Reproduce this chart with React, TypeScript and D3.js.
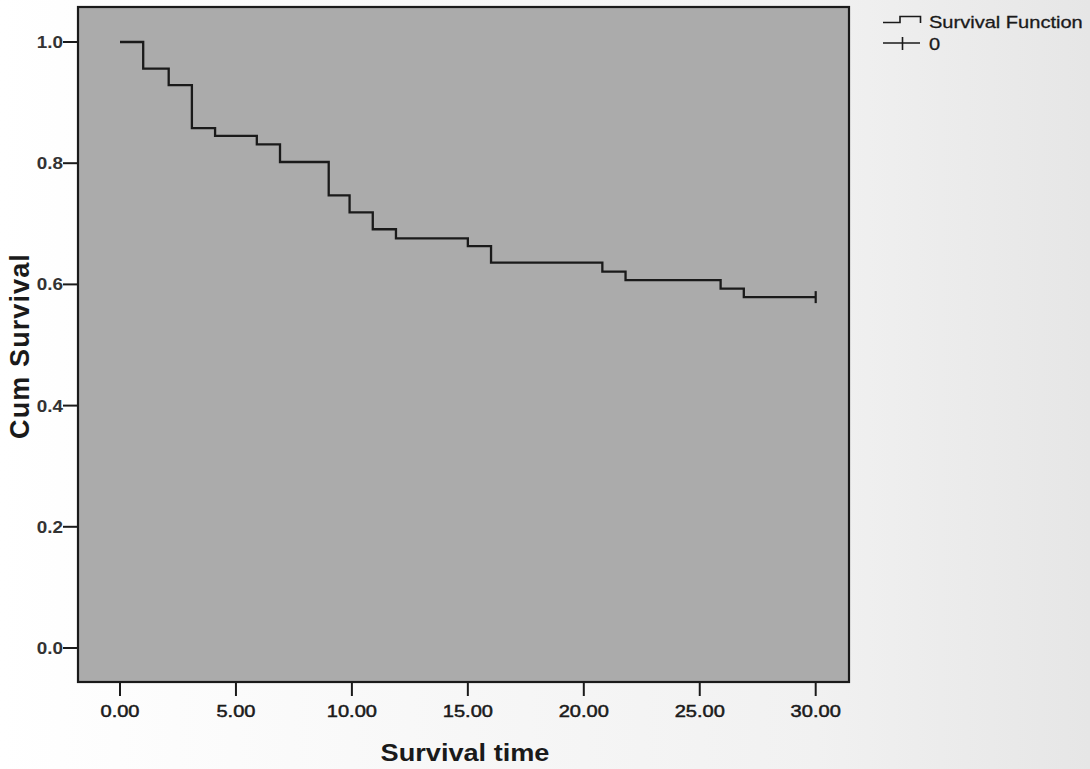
import React from "react";
import * as d3 from "d3";

// Kaplan-Meier estimate
const eventTimes = [0, 1, 2.1, 3.1, 4.1, 5.9, 6.9, 9, 9.9, 10.9, 11.9, 15, 16, 20.8, 21.8, 25.9, 26.9];
const survival = [1, 0.956, 0.929, 0.858, 0.845, 0.831, 0.802, 0.747, 0.719, 0.691, 0.676, 0.663, 0.636, 0.621, 0.607, 0.593, 0.579];
const censorTimes = [30];
const xTicks = [0, 5, 10, 15, 20, 25, 30];
const yTicks = [0, 0.2, 0.4, 0.6, 0.8, 1.0];
const legendLabels = ["Survival Function", "0"];

const W = 1090;
const H = 769;
const frame = { left: 78, top: 7, right: 849, bottom: 682 };
const font = "'Liberation Sans', Arial, Helvetica, sans-serif";
const ink = "#1a1a1a";

const App = () => {
  const x = d3.scaleLinear().domain([0, 30]).range([120, 815.7]);
  const y = d3.scaleLinear().domain([0, 1]).range([648, 42]);

  const lastS = survival[survival.length - 1];
  const pts: [number, number][] = eventTimes.map((t, i) => [t, survival[i]]);
  pts.push([censorTimes[0], lastS]);

  const line = d3
    .line<[number, number]>()
    .x(d => x(d[0]))
    .y(d => y(d[1]))
    .curve(d3.curveStepAfter);

  // text is a bit wider than plain Arial in the scan
  const stretch = 1.18;

  return (
    <svg
      width={W}
      height={H}
      style={{ position: "absolute", left: 0, top: 0 }}
    >
      <defs>
        <linearGradient id="bg" x1="0" x2="1" y1="0" y2="0">
          <stop offset="0" stopColor="#ffffff" />
          <stop offset="0.75" stopColor="#f1f1f1" />
          <stop offset="1" stopColor="#e6e6e6" />
        </linearGradient>
      </defs>
      <rect width={W} height={H} fill="url(#bg)" />

      {/* plot area */}
      <rect
        x={frame.left}
        y={frame.top}
        width={frame.right - frame.left}
        height={frame.bottom - frame.top}
        fill="#ababab"
        stroke={ink}
        strokeWidth={2.2}
      />

      {/* y axis */}
      {yTicks.map(v => (
        <g key={"y" + v}>
          <line x1={frame.left - 15} x2={frame.left} y1={y(v)} y2={y(v)} stroke={ink} strokeWidth={2} />
          <text
            transform={`translate(${frame.left - 15},${y(v) + 6}) scale(${stretch},1)`}
            textAnchor="end"
            fontFamily={font}
            fontWeight="bold"
            fontSize={16}
            fill="#333"
          >
            {v.toFixed(1)}
          </text>
        </g>
      ))}

      {/* x axis */}
      {xTicks.map(v => (
        <g key={"x" + v}>
          <line x1={x(v)} x2={x(v)} y1={frame.bottom} y2={frame.bottom + 14} stroke={ink} strokeWidth={2} />
          <text
            transform={`translate(${x(v)},${frame.bottom + 35}) scale(${stretch},1)`}
            textAnchor="middle"
            fontFamily={font}
            fontSize={17}
            fill={ink}
            stroke={ink}
            strokeWidth={0.5}
          >
            {v.toFixed(2)}
          </text>
        </g>
      ))}

      {/* axis titles */}
      <text
        transform={`translate(${465},${761}) scale(${stretch},1)`}
        textAnchor="middle"
        fontFamily={font}
        fontWeight="bold"
        fontSize={23}
        fill={ink}
      >
        Survival time
      </text>
      <text
        transform={`translate(${29},${346}) rotate(-90)`}
        textAnchor="middle"
        fontFamily={font}
        fontWeight="bold"
        fontSize={27}
        letterSpacing={1.1}
        fill={ink}
      >
        Cum Survival
      </text>

      {/* survival curve */}
      <path d={line(pts) ?? ""} fill="none" stroke={ink} strokeWidth={2.3} />
      {censorTimes.map(t => (
        <line key={"c" + t} x1={x(t)} x2={x(t)} y1={y(lastS) - 6} y2={y(lastS) + 6} stroke={ink} strokeWidth={2.2} />
      ))}

      {/* legend */}
      <path d="M883,22.5 H900 V16.5 H920.5 V23" fill="none" stroke={ink} strokeWidth={1.6} />
      <text
        transform={`translate(929,27.5) scale(${stretch},1)`}
        fontFamily={font}
        fontSize={17}
        fill={ink}
        stroke={ink}
        strokeWidth={0.3}
      >
        {legendLabels[0]}
      </text>
      <line x1={883} x2={920} y1={43} y2={43} stroke={ink} strokeWidth={1.6} />
      <line x1={902.5} x2={902.5} y1={37} y2={50} stroke={ink} strokeWidth={1.6} />
      <text
        transform={`translate(929,50) scale(${stretch},1)`}
        fontFamily={font}
        fontSize={17}
        fill={ink}
        stroke={ink}
        strokeWidth={0.3}
      >
        {legendLabels[1]}
      </text>
    </svg>
  );
};

export default App;
